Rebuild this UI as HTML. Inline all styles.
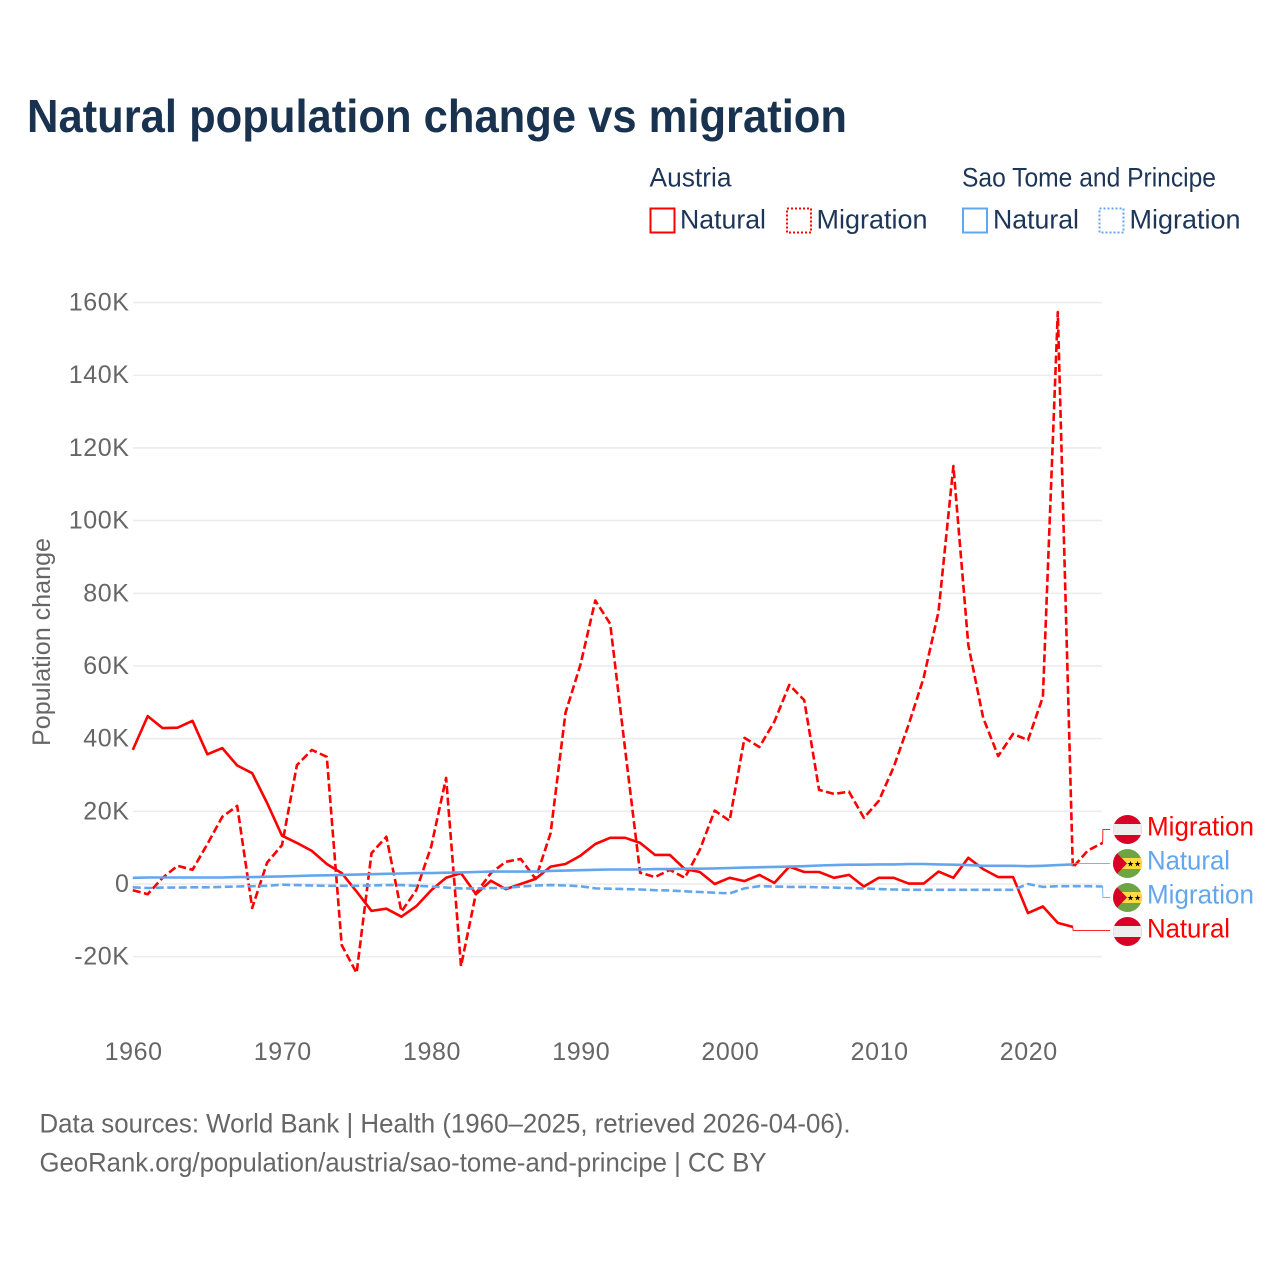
<!DOCTYPE html>
<html lang="en">
<head>
<meta charset="utf-8">
<title>Natural population change vs migration</title>
<style>
html,body{margin:0;padding:0;background:#fff}
svg{display:block;font-family:"Liberation Sans",sans-serif}
.tick{font-size:25px;fill:#666;letter-spacing:.6px}
.leg{font-size:26.5px;fill:#1d3557}
.lab{font-size:26.5px}
.foot{font-size:26.5px;fill:#666}
</style>
</head>
<body>
<svg id="chart" xmlns="http://www.w3.org/2000/svg" width="1280" height="1280" viewBox="0 0 1280 1280">
<rect width="1280" height="1280" fill="#fff"/>
<text x="27" y="132" font-size="46" font-weight="700" fill="#18324f" textLength="820" lengthAdjust="spacingAndGlyphs">Natural population change vs migration</text>

<text class="leg" x="649.5" y="186.5" textLength="82" lengthAdjust="spacingAndGlyphs">Austria</text>
<text class="leg" x="962" y="186.5" textLength="254" lengthAdjust="spacingAndGlyphs">Sao Tome and Principe</text>

<g>
<rect x="650.5" y="208.5" width="24" height="24" fill="none" stroke="#ff0000" stroke-width="2"/>
<text class="leg" x="680" y="228.5" textLength="86" lengthAdjust="spacingAndGlyphs">Natural</text>
</g>
<g>
<rect x="787" y="208.5" width="24" height="24" fill="none" stroke="#ff0000" stroke-width="2" stroke-dasharray="2 2"/>
<text class="leg" x="816.5" y="228.5" textLength="111" lengthAdjust="spacingAndGlyphs">Migration</text>
</g>
<g>
<rect x="963" y="208.5" width="24" height="24" fill="none" stroke="#64a6ee" stroke-width="2"/>
<text class="leg" x="993" y="228.5" textLength="86" lengthAdjust="spacingAndGlyphs">Natural</text>
</g>
<g>
<rect x="1099.5" y="208.5" width="24" height="24" fill="none" stroke="#64a6ee" stroke-width="2" stroke-dasharray="2 2"/>
<text class="leg" x="1129.5" y="228.5" textLength="111" lengthAdjust="spacingAndGlyphs">Migration</text>
</g>

<text transform="translate(50,642) rotate(-90)" text-anchor="middle" font-size="25" fill="#666" textLength="208" lengthAdjust="spacingAndGlyphs">Population change</text>

<g id="grid"></g>
<g id="yticks"></g>
<g id="xticks"></g>
<g id="series"></g>
<g id="leaders"></g>

<g>
<clipPath id="c1"><circle cx="1127.5" cy="829.5" r="14.5"/></clipPath>
<g clip-path="url(#c1)">
<rect x="1113" y="815" width="29" height="29" fill="#d80027"/><rect x="1113" y="824" width="29" height="11" fill="#eeeeee"/>
</g>
<text class="lab" x="1147" y="835.5" fill="#ff0000" textLength="107" lengthAdjust="spacingAndGlyphs">Migration</text>
</g>
<g>
<clipPath id="c2"><circle cx="1127.5" cy="863.5" r="14.5"/></clipPath>
<g clip-path="url(#c2)">
<rect x="1113" y="849" width="29" height="29" fill="#6da544"/><rect x="1113" y="858" width="29" height="11" fill="#ffda44"/>
<polygon points="1113,849 1127,863.5 1113,878" fill="#d80027"/>
<text x="1134" y="866.5" font-size="8" text-anchor="middle" fill="#000">★★</text>
</g>
<text class="lab" x="1147" y="869.5" fill="#64a6ee" textLength="83" lengthAdjust="spacingAndGlyphs">Natural</text>
</g>
<g>
<clipPath id="c3"><circle cx="1127.5" cy="897.5" r="14.5"/></clipPath>
<g clip-path="url(#c3)">
<rect x="1113" y="883" width="29" height="29" fill="#6da544"/><rect x="1113" y="892" width="29" height="11" fill="#ffda44"/>
<polygon points="1113,883 1127,897.5 1113,912" fill="#d80027"/>
<text x="1134" y="900.5" font-size="8" text-anchor="middle" fill="#000">★★</text>
</g>
<text class="lab" x="1147" y="903.5" fill="#64a6ee" textLength="107" lengthAdjust="spacingAndGlyphs">Migration</text>
</g>
<g>
<clipPath id="c4"><circle cx="1127.5" cy="931.5" r="14.5"/></clipPath>
<g clip-path="url(#c4)">
<rect x="1113" y="917" width="29" height="29" fill="#d80027"/><rect x="1113" y="926" width="29" height="11" fill="#eeeeee"/>
</g>
<text class="lab" x="1147" y="937.5" fill="#ff0000" textLength="83" lengthAdjust="spacingAndGlyphs">Natural</text>
</g>

<text class="foot" x="39.5" y="1132.5" textLength="811" lengthAdjust="spacingAndGlyphs">Data sources: World Bank | Health (1960–2025, retrieved 2026-04-06).</text>
<text class="foot" x="39.5" y="1171.5" textLength="727" lengthAdjust="spacingAndGlyphs">GeoRank.org/population/austria/sao-tome-and-principe | CC BY</text>
</svg>
<script>
// Values in thousands of people, one per year starting at startYear.
const startYear = 1960;
const yTickValues = [-20, 0, 20, 40, 60, 80, 100, 120, 140, 160];
const yTickLabels = ['-20K', '0', '20K', '40K', '60K', '80K', '100K', '120K', '140K', '160K'];
const xTickValues = [1960, 1970, 1980, 1990, 2000, 2010, 2020];
const austriaNatural = [
  36.9, 46.2, 42.9, 43.0, 44.9, 35.7, 37.4, 32.6, 30.5, 22.3,
  13.3, 11.3, 9.1, 5.5, 3.0, -2.1, -7.4, -6.8, -9.0, -6.1,
  -1.7, 1.7, 3.0, -2.8, 0.9, -1.4, 0.0, 1.4, 4.8, 5.5,
  7.8, 11.0, 12.7, 12.7, 11.3, 8.0, 8.0, 4.1, 3.3, 0.0,
  1.7, 0.8, 2.5, 0.3, 4.8, 3.3, 3.3, 1.7, 2.5, -0.7,
  1.7, 1.7, 0.1, 0.1, 3.4, 1.7, 7.2, 4.1, 1.9, 1.9,
  -8.0, -6.2, -10.7, -11.8
];
const austriaMigration = [
  -1.7, -2.8, 1.7, 5.0, 3.9, 11.0, 18.5, 21.5, -6.6, 5.9,
  10.7, 32.7, 36.9, 35.0, -16.8, -24.5, 8.5, 13.0, -7.6, -1.7,
  10.3, 29.2, -22.6, -2.5, 3.0, 6.1, 6.9, 1.4, 14.0, 47.1,
  60.3, 78.0, 71.6, 36.9, 3.1, 1.9, 3.9, 1.7, 9.4, 20.2,
  17.4, 40.2, 37.7, 44.7, 54.8, 50.6, 25.9, 24.8, 25.4, 18.2,
  22.9, 32.2, 43.8, 56.7, 74.9, 115.0, 65.8, 45.7, 35.2, 41.3,
  39.6, 51.5, 157.4, 4.5, 9.2, 11.3
];
const stpNatural = [
  1.7, 1.8, 1.8, 1.8, 1.8, 1.8, 1.8, 1.9, 1.9, 2.0,
  2.1, 2.2, 2.3, 2.4, 2.5, 2.6, 2.7, 2.8, 2.9, 3.0,
  3.0, 3.1, 3.2, 3.3, 3.4, 3.4, 3.4, 3.4, 3.6, 3.7,
  3.8, 3.9, 4.0, 4.0, 4.0, 4.1, 4.1, 4.2, 4.2, 4.3,
  4.4, 4.5, 4.6, 4.7, 4.8, 4.9, 5.1, 5.2, 5.3, 5.3,
  5.4, 5.4, 5.5, 5.5, 5.4, 5.3, 5.2, 5.0, 5.0, 5.0,
  4.9, 5.0, 5.2, 5.4
];
const stpMigration = [
  -0.9, -1.1, -1.0, -1.0, -0.9, -0.9, -0.8, -0.7, -0.6, -0.5,
  -0.2, -0.3, -0.4, -0.5, -0.5, -0.5, -0.4, -0.3, -0.3, -0.5,
  -0.7, -1.0, -1.2, -1.2, -1.1, -1.1, -0.7, -0.4, -0.3, -0.4,
  -0.6, -1.2, -1.3, -1.4, -1.5, -1.7, -1.8, -2.0, -2.2, -2.4,
  -2.6, -1.2, -0.6, -0.7, -0.8, -0.8, -0.9, -1.0, -1.1, -1.2,
  -1.4, -1.5, -1.6, -1.6, -1.6, -1.6, -1.6, -1.6, -1.6, -1.6,
  0.0, -0.8, -0.6, -0.6, -0.6, -0.7
];

const NS = 'http://www.w3.org/2000/svg';
const RED = '#ff0000';
const BLUE = '#64a6ee';
function xScale(year) { return 132.8 + (year - 1960) * 14.92; }
function yScale(v) { return 884 - v * 3.634; }
function make(tag, attrs, parent) {
  const el = document.createElementNS(NS, tag);
  for (const k in attrs) el.setAttribute(k, attrs[k]);
  parent.appendChild(el);
  return el;
}
const gridG = document.getElementById('grid');
const yG = document.getElementById('yticks');
const xG = document.getElementById('xticks');
const seriesG = document.getElementById('series');
const leadG = document.getElementById('leaders');

yTickValues.forEach(function (v, i) {
  const line = make('line', { x1: 133, x2: 1102, y1: yScale(v), y2: yScale(v), stroke: '#ececec', 'stroke-width': 1.6 }, gridG);
  
  
  const t = make('text', { x: 129.5, y: yScale(v) + 8, 'text-anchor': 'end', class: 'tick' }, yG);
  
  
  t.textContent = yTickLabels[i];
});
xTickValues.forEach(function (yr) {
  const t = make('text', { x: xScale(yr) + 0.8, y: 1060, 'text-anchor': 'middle', class: 'tick' }, xG);
  
  
  t.textContent = String(yr);
});

function pointsOf(values) {
  return values.map(function (v, i) { return xScale(startYear + i).toFixed(1) + ',' + yScale(v).toFixed(1); }).join(' ');
}
function drawSeries(values, color, dash, name) {
  const attrs = { points: pointsOf(values), fill: 'none', stroke: color, 'stroke-width': 2.6, 'stroke-linejoin': 'round' };
  if (dash) attrs['stroke-dasharray'] = '8 3.5';
  const p = make('polyline', attrs, seriesG);
  
  
}
drawSeries(austriaMigration, RED, true, 'line-austria-migration');
drawSeries(austriaNatural, RED, false, 'line-austria-natural');
drawSeries(stpMigration, BLUE, true, 'line-stp-migration');
drawSeries(stpNatural, BLUE, false, 'line-stp-natural');

function drawLeader(values, labelY, color, name) {
  const last = values.length - 1;
  const px = xScale(startYear + last);
  const py = yScale(values[last]);
  const midX = px + 0.3;
  const d = 'M' + px.toFixed(1) + ' ' + py.toFixed(1) + 'L' + midX.toFixed(1) + ' ' + labelY + 'L1110 ' + labelY;
  const p = make('path', { d: d, fill: 'none', stroke: color, 'stroke-width': 1, 'stroke-opacity': 0.85 }, leadG);
  
  
}
drawLeader(austriaMigration, 829.5, RED, 'leader-austria-migration');
drawLeader(stpNatural, 863.5, BLUE, 'leader-stp-natural');
drawLeader(stpMigration, 897.5, BLUE, 'leader-stp-migration');
drawLeader(austriaNatural, 930.5, RED, 'leader-austria-natural');
</script>
</body>
</html>
